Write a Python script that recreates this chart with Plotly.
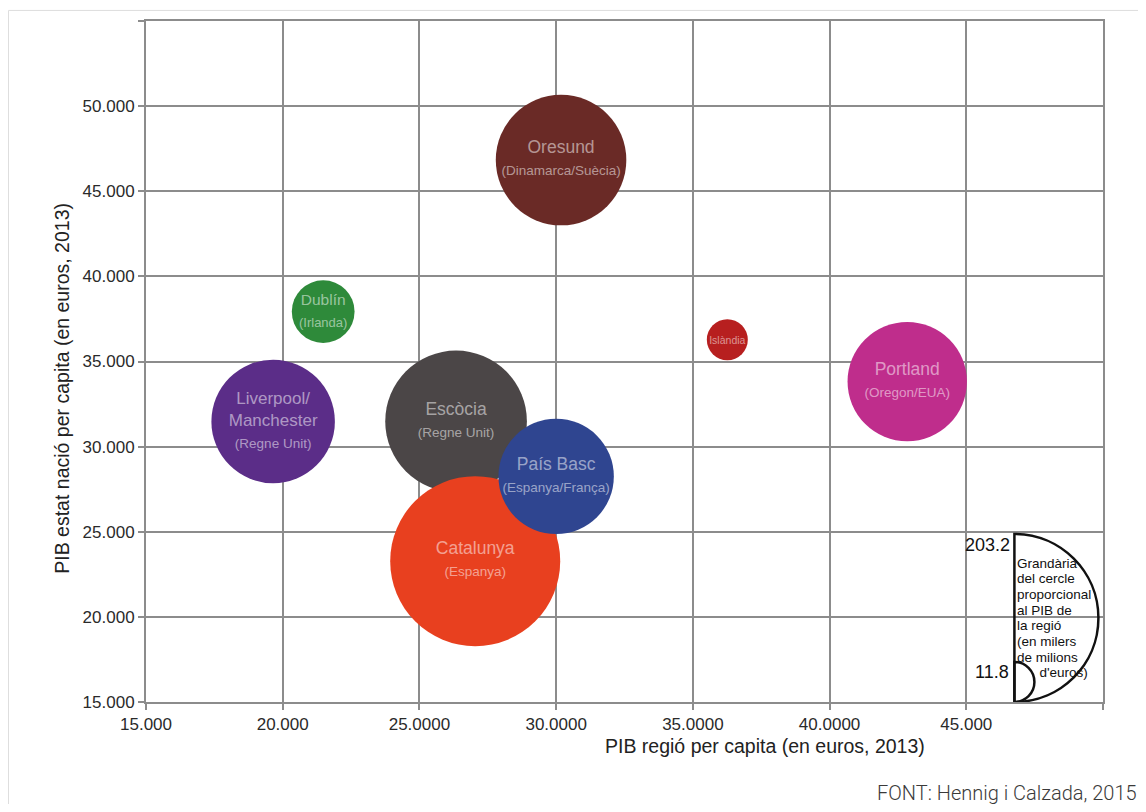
import plotly.graph_objects as go

# ---- data ----
regions = ["Oresund", "Dublín", "Islàndia", "Portland", "Liverpool/<br>Manchester",
           "Escòcia", "Catalunya", "País Basc"]
countries = ["(Dinamarca/Suècia)", "(Irlanda)", "", "(Oregon/EUA)", "(Regne Unit)",
             "(Regne Unit)", "(Espanya)", "(Espanya/França)"]
pib_regio = [30180, 21480, 36260, 42840, 19650, 26340, 27040, 30000]
pib_estat = [46830, 37930, 36280, 33820, 31480, 31480, 23270, 28250]
pib_total = [119.8, 27.7, 11.8, 100.2, 107.2, 141.1, 203.2, 93.6]
colors = ["#6a2a26", "#2e8a3a", "#b71f1f", "#bf2d8c", "#5b2d88",
          "#4b4647", "#e8401f", "#2f4590"]
name_sizes = [17.5, 15.5, 10.5, 17.5, 17, 17.5, 17.5, 17.5]
sub_sizes = [13.5, 13, 10.5, 13.5, 13.5, 13.5, 13.5, 13.5]

x_ticks = [15000, 20000, 25000, 30000, 35000, 40000, 45000, 50000]
x_ticktext = ["15.000", "20.000", "25.0000", "30.0000", "35.0000", "40.0000", "45.000", ""]
y_ticks = [15000, 20000, 25000, 30000, 35000, 40000, 45000, 50000, 55000]
y_ticktext = ["15.000", "20.000", "25.000", "30.000", "35.000", "40.000", "45.000", "50.000", ""]

legend_max = 203.2
legend_min = 11.8
legend_lines = ["Grandària", "del cercle", "proporcional", "al PIB de", "la regió",
                "(en milers", "de milions", "\u00a0\u00a0\u00a0\u00a0\u00a0\u00a0d'euros)"]

MAX_R = 85  # px radius of largest bubble
sizeref = legend_max / (2 * MAX_R ** 2)

labels = []
for r, c, ns, ss in zip(regions, countries, name_sizes, sub_sizes):
    t = f"<span style='font-size:{ns}px'>{r}</span>"
    if c:
        t += f"<br><span style='font-size:{ss}px'>{c}</span>"
    labels.append(t)

GRID = "#8c8c8c"
FONT = "Liberation Sans, Arial, Helvetica, sans-serif"

fig = go.Figure()
fig.add_trace(go.Scatter(
    x=pib_regio, y=pib_estat, mode="markers+text",
    text=labels, textposition="middle center",
    textfont=dict(family=FONT, size=17, color="rgba(255,255,255,0.52)"),
    marker=dict(size=pib_total, sizemode="area", sizeref=sizeref,
                color=colors, opacity=1, line=dict(width=0)),
    hoverinfo="skip", showlegend=False, cliponaxis=False,
))

axis_common = dict(showgrid=True, gridcolor=GRID, gridwidth=2, showline=True,
                   linecolor=GRID, linewidth=2, mirror=True, ticks="outside",
                   ticklen=6, tickwidth=2, tickcolor=GRID, zeroline=False,
                   tickfont=dict(family=FONT, size=17, color="#2a2a2a"))

fig.update_xaxes(range=[15000, 50000], tickmode="array", tickvals=x_ticks,
                 ticktext=x_ticktext, **axis_common)
fig.update_yaxes(range=[15000, 55000], tickmode="array", tickvals=y_ticks,
                 ticktext=y_ticktext, **axis_common)

# legend anchor (lower-left corner of semicircle legend)
LX = 46760
big_r = 84
small_r = 20
k = 0.5523


def semicircle(r):
    c = k * r
    return (f"M 0 0 C {c:.2f} 0 {r} {r - c:.2f} {r} {r} "
            f"C {r} {r + c:.2f} {c:.2f} {2 * r} 0 {2 * r} Z")


shapes = []
for r in (big_r, small_r):
    shapes.append(dict(type="path", xref="x", yref="y", xsizemode="pixel",
                       ysizemode="pixel", xanchor=LX, yanchor=15000,
                       path=semicircle(r), line=dict(color="#111111", width=2.5),
                       fillcolor="rgba(0,0,0,0)"))
# outer light frame
shapes.append(dict(type="rect", xref="paper", yref="paper", x0=-0.1437, y0=-0.3,
                   x1=1.2, y1=1.0155, line=dict(color="#dedede", width=1),
                   fillcolor="rgba(0,0,0,0)", layer="below"))

annotations = [
    dict(text="PIB regió per capita (en euros, 2013)", xref="paper", yref="paper",
         x=0.647, y=0, yshift=-44, xanchor="center", yanchor="middle",
         showarrow=False, font=dict(family=FONT, size=19.5, color="#222222")),
    dict(text="PIB estat nació per capita (en euros, 2013)", xref="paper", yref="paper",
         x=0, xshift=-84, y=0.46, textangle=-90, xanchor="center", yanchor="middle",
         showarrow=False, font=dict(family=FONT, size=19.5, color="#222222")),
    dict(text="FONT: Hennig i Calzada, 2015", xref="paper", yref="paper",
         x=1, xshift=36, y=0, yshift=-91, xanchor="right", yanchor="middle",
         showarrow=False, font=dict(family="Roboto", size=20, color="#3a3a3a", weight=300)),
    dict(text=f"{legend_max}", xref="x", yref="y", x=LX, y=15000, xshift=-2,
         yshift=157, xanchor="right", yanchor="middle", showarrow=False,
         font=dict(family=FONT, size=18, color="#111111")),
    dict(text=f"{legend_min}", xref="x", yref="y", x=LX, y=15000, xshift=-3,
         yshift=30, xanchor="right", yanchor="middle", showarrow=False,
         font=dict(family=FONT, size=18, color="#111111")),
]
for i, line in enumerate(legend_lines):
    annotations.append(dict(text=line, xref="x", yref="y", x=LX, y=15000, xshift=1,
                            yshift=139 - 15.7 * i, xanchor="left", yanchor="middle",
                            align="left", showarrow=False,
                            font=dict(family=FONT, size=13.5, color="#111111")))

fig.update_layout(
    width=1130, height=796,
    margin=dict(l=138, r=35, t=11, b=102),
    paper_bgcolor="white", plot_bgcolor="white",
    shapes=shapes, annotations=annotations,
    font=dict(family=FONT),
)

fig.write_html("out.html")
